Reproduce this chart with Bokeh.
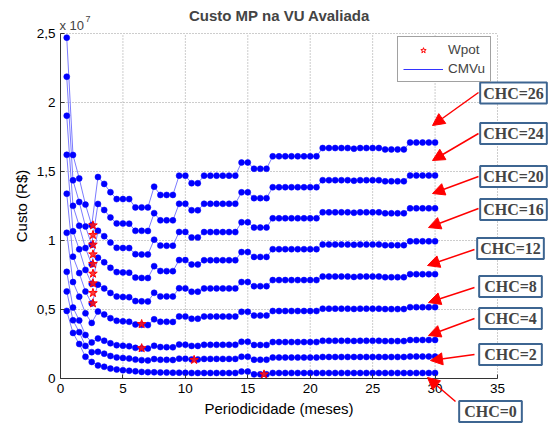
from bokeh.plotting import figure
from bokeh.models import (FixedTicker, Label, Arrow, NormalHead, Legend, LegendItem, Range1d,
                          LinearAxis)
from bokeh.embed import file_html
from bokeh.resources import INLINE

# ---------------- data (cost in units of 1e7 R$) ----------------
months = [0.5, 1.0, 1.5, 2.0, 2.5, 3.0, 3.5, 4.0, 4.5, 5.0, 5.5,
          6.0, 6.5, 7.0, 7.5, 8.0, 8.5, 9.0, 9.5, 10.0, 10.5, 11.0,
          11.5, 12.0, 12.5, 13.0, 13.5, 14.0, 14.5, 15.0, 15.5, 16.0, 16.5,
          17.0, 17.5, 18.0, 18.5, 19.0, 19.5, 20.0, 20.5, 21.0, 21.5, 22.0, 22.5, 23.0,
          23.5, 24.0, 24.5, 25.0, 25.5, 26.0, 26.5, 27.0, 27.5, 28.0, 28.5, 29.0, 29.5, 30.0]

custo_chc0 = [0.490, 0.330, 0.250, 0.157, 0.120, 0.095, 0.085, 0.072, 0.065, 0.060, 0.056,
              0.052, 0.048, 0.046, 0.045, 0.044, 0.043, 0.042, 0.042, 0.041, 0.040, 0.040,
              0.040, 0.040, 0.040, 0.040, 0.040, 0.040, 0.050, 0.050, 0.030, 0.030, 0.030,
              0.040, 0.040, 0.040, 0.040, 0.040, 0.040, 0.040, 0.040, 0.040, 0.040, 0.040, 0.040, 0.040,
              0.040, 0.040, 0.040, 0.040, 0.040, 0.040, 0.040, 0.040, 0.040, 0.040, 0.040, 0.040, 0.040, 0.040]
custo_chc2 = [0.631, 0.422, 0.336, 0.236, 0.191, 0.193, 0.180, 0.163, 0.153, 0.149, 0.145,
              0.137, 0.133, 0.131, 0.141, 0.136, 0.135, 0.134, 0.144, 0.143, 0.138, 0.138,
              0.142, 0.142, 0.142, 0.142, 0.142, 0.142, 0.158, 0.158, 0.136, 0.136, 0.136,
              0.152, 0.152, 0.152, 0.152, 0.152, 0.152, 0.152, 0.152, 0.156, 0.156, 0.156, 0.156, 0.156,
              0.156, 0.156, 0.156, 0.156, 0.156, 0.156, 0.156, 0.156, 0.156, 0.159, 0.159, 0.159, 0.159, 0.159]
custo_chc4 = [0.773, 0.514, 0.421, 0.315, 0.261, 0.290, 0.274, 0.255, 0.241, 0.237, 0.234,
              0.222, 0.218, 0.217, 0.237, 0.228, 0.227, 0.226, 0.246, 0.245, 0.236, 0.236,
              0.244, 0.244, 0.244, 0.244, 0.244, 0.244, 0.266, 0.266, 0.243, 0.243, 0.243,
              0.264, 0.264, 0.264, 0.264, 0.264, 0.264, 0.264, 0.264, 0.273, 0.273, 0.273, 0.273, 0.273,
              0.272, 0.273, 0.273, 0.273, 0.273, 0.271, 0.271, 0.271, 0.271, 0.279, 0.279, 0.279, 0.279, 0.279]
custo_chc8 = [1.056, 0.699, 0.593, 0.472, 0.403, 0.485, 0.464, 0.437, 0.418, 0.414, 0.411,
              0.391, 0.389, 0.387, 0.429, 0.411, 0.411, 0.410, 0.450, 0.449, 0.433, 0.433,
              0.449, 0.449, 0.449, 0.449, 0.449, 0.449, 0.483, 0.483, 0.456, 0.456, 0.456,
              0.489, 0.489, 0.489, 0.489, 0.489, 0.489, 0.489, 0.489, 0.506, 0.506, 0.506, 0.506, 0.506,
              0.504, 0.506, 0.506, 0.506, 0.506, 0.503, 0.503, 0.503, 0.503, 0.517, 0.517, 0.517, 0.517, 0.517]
custo_chc12 = [1.339, 0.883, 0.764, 0.630, 0.544, 0.680, 0.653, 0.620, 0.594, 0.591, 0.589,
               0.561, 0.559, 0.558, 0.621, 0.595, 0.595, 0.594, 0.654, 0.653, 0.629, 0.629,
               0.653, 0.653, 0.653, 0.653, 0.653, 0.653, 0.699, 0.699, 0.669, 0.669, 0.669,
               0.713, 0.713, 0.713, 0.713, 0.713, 0.713, 0.713, 0.713, 0.739, 0.739, 0.739, 0.739, 0.739,
               0.736, 0.739, 0.739, 0.739, 0.739, 0.734, 0.734, 0.734, 0.734, 0.756, 0.756, 0.756, 0.756, 0.756]
custo_chc16 = [1.621, 1.067, 0.936, 0.787, 0.686, 0.875, 0.842, 0.802, 0.771, 0.769, 0.767,
               0.731, 0.729, 0.728, 0.814, 0.779, 0.778, 0.778, 0.858, 0.858, 0.826, 0.826,
               0.857, 0.857, 0.857, 0.857, 0.857, 0.857, 0.916, 0.916, 0.881, 0.881, 0.881,
               0.937, 0.937, 0.937, 0.937, 0.937, 0.937, 0.937, 0.937, 0.971, 0.971, 0.971, 0.971, 0.971,
               0.969, 0.971, 0.971, 0.971, 0.971, 0.966, 0.966, 0.966, 0.966, 0.994, 0.994, 0.994, 0.994, 0.994]
custo_chc20 = [1.904, 1.251, 1.107, 0.945, 0.827, 1.070, 1.031, 0.985, 0.947, 0.946, 0.945,
               0.901, 0.899, 0.899, 1.006, 0.963, 0.962, 0.962, 1.062, 1.062, 1.022, 1.022,
               1.061, 1.061, 1.061, 1.061, 1.061, 1.061, 1.132, 1.132, 1.094, 1.094, 1.094,
               1.161, 1.161, 1.161, 1.161, 1.161, 1.161, 1.161, 1.161, 1.204, 1.204, 1.204, 1.204, 1.204,
               1.201, 1.204, 1.204, 1.204, 1.204, 1.197, 1.197, 1.197, 1.197, 1.233, 1.233, 1.233, 1.233, 1.233]
custo_chc24 = [2.187, 1.436, 1.279, 1.102, 0.969, 1.265, 1.221, 1.167, 1.124, 1.123, 1.122,
               1.070, 1.070, 1.069, 1.198, 1.146, 1.146, 1.146, 1.266, 1.266, 1.219, 1.219,
               1.266, 1.266, 1.266, 1.266, 1.266, 1.266, 1.349, 1.349, 1.307, 1.307, 1.307,
               1.386, 1.386, 1.386, 1.386, 1.386, 1.386, 1.386, 1.386, 1.437, 1.437, 1.437, 1.437, 1.437,
               1.433, 1.437, 1.437, 1.437, 1.437, 1.429, 1.429, 1.429, 1.429, 1.471, 1.471, 1.471, 1.471, 1.471]
custo_chc26 = [2.470, 1.620, 1.450, 1.260, 1.110, 1.460, 1.410, 1.350, 1.300, 1.300, 1.300,
               1.240, 1.240, 1.240, 1.390, 1.330, 1.330, 1.330, 1.470, 1.470, 1.415, 1.415,
               1.470, 1.470, 1.470, 1.470, 1.470, 1.470, 1.565, 1.565, 1.520, 1.520, 1.520,
               1.610, 1.610, 1.610, 1.610, 1.610, 1.610, 1.610, 1.610, 1.670, 1.670, 1.670, 1.670, 1.670,
               1.665, 1.670, 1.670, 1.670, 1.670, 1.660, 1.660, 1.660, 1.660, 1.710, 1.710, 1.710, 1.710, 1.710]

wpot_x = [2.6, 2.6, 2.6, 2.6, 2.6, 2.6, 2.6, 2.6, 2.6, 6.5, 6.5, 10.7, 16.3]
wpot_y = [1.11, 1.04, 0.97, 0.90, 0.83, 0.76, 0.69, 0.62, 0.545, 0.395, 0.22, 0.135, 0.03]

x_ticks = [0, 5, 10, 15, 20, 25, 30, 35]
y_ticks = [0, 0.5, 1.0, 1.5, 2.0, 2.5]
y_tick_text = ["0", "0,5", "1", "1,5", "2", "2,5"]

chc_names = ["CHC=26", "CHC=24", "CHC=20", "CHC=16", "CHC=12", "CHC=8", "CHC=4", "CHC=2", "CHC=0"]

curves = [custo_chc0, custo_chc2, custo_chc4, custo_chc8, custo_chc12,
          custo_chc16, custo_chc20, custo_chc24, custo_chc26]

# ---------------- layout: the frame spans the whole canvas; axes sit at fixed locations ----------------
W, H = 557, 423
LEFT, RIGHT, TOP, BOTTOM = 60, 497, 33, 378          # pixel box of the axes area
X_MAX, Y_MAX = 35.0, 2.5
sx = (RIGHT - LEFT) / X_MAX
sy = (BOTTOM - TOP) / Y_MAX
x_range = Range1d(-LEFT / sx, X_MAX + (W - RIGHT) / sx)
y_range = Range1d(-(H - BOTTOM) / sy, Y_MAX + TOP / sy)

# annotation placement (canvas pixels, y from top)
box_px = [513, 513, 513, 513, 510, 510, 510, 510, 490]
box_py = [92.5, 133, 176, 209, 248, 286, 318, 354, 411]
arr_px0 = [478, 478, 478, 478, 474, 474, 474, 474, 455]
arr_py0 = [92, 133, 176, 208, 249, 287, 318, 354, 401]
arr_px1 = [432, 432, 432, 428, 427, 428, 428, 430, 427]
arr_py1 = [125, 160, 193, 227, 265, 302, 335, 360, 377]

SANS = "Liberation Sans"

p = figure(width=W, height=H, output_backend="svg", toolbar_location=None,
           x_range=x_range, y_range=y_range, x_axis_type=None, y_axis_type=None,
           min_border=0, title=None)
p.outline_line_color = None
p.background_fill_color = "white"
p.border_fill_color = "white"

# dotted grid limited to the axes box
grid_style = dict(line_color="#9a9a9a", line_dash="1 2", line_width=1)
p.segment(x0=x_ticks[1:], y0=[0] * (len(x_ticks) - 1), x1=x_ticks[1:], y1=[Y_MAX] * (len(x_ticks) - 1), **grid_style)
p.segment(x0=[0] * (len(y_ticks) - 1), y0=y_ticks[1:], x1=[X_MAX] * (len(y_ticks) - 1), y1=y_ticks[1:], **grid_style)

xaxis = LinearAxis(fixed_location=0, bounds=(0, X_MAX), ticker=FixedTicker(ticks=x_ticks),
                   axis_label="Periodicidade (meses)")
yaxis = LinearAxis(fixed_location=0, bounds=(0, Y_MAX), ticker=FixedTicker(ticks=y_ticks),
                   axis_label="Custo (R$)",
                   major_label_overrides={t: s for t, s in zip(y_ticks, y_tick_text)})
for ax in (xaxis, yaxis):
    ax.axis_label_text_font = SANS
    ax.axis_label_text_font_size = "15px"
    ax.axis_label_text_font_style = "normal"
    ax.axis_label_text_color = "black"
    ax.major_label_text_font = SANS
    ax.major_label_text_font_size = "13.5px"
    ax.major_label_text_color = "black"
    ax.axis_line_color = "#333333"
    ax.major_tick_line_color = "#333333"
    ax.major_tick_in = 4
    ax.major_tick_out = 0
    ax.minor_tick_line_color = None
    ax.axis_label_standoff = 4
    ax.major_label_standoff = 5
p.add_layout(xaxis, "below")
p.add_layout(yaxis, "left")

for ys in curves:
    p.line(months, ys, line_color="#7b7bff", line_width=1)
for ys in curves:
    p.scatter(months, ys, size=6, fill_color="#0000ff", line_color="#0000ff", line_width=0.5)

p.scatter(wpot_x, wpot_y, marker="star", size=9, fill_color="#ff1a1a", fill_alpha=0.85,
          line_color="#ff0000", line_width=1)

# legend-only renderers (points placed outside the visible range)
leg_star = p.scatter(x=[-100], y=[-100], marker="star", size=7, fill_color=None, line_color="#ff0000", line_width=1)
leg_line = p.line(x=[-100, -99], y=[-100, -100], line_color="#3333ff", line_width=1.2)
legend = Legend(items=[LegendItem(label="Wpot", renderers=[leg_star]),
                       LegendItem(label="CMVu", renderers=[leg_line])],
                location=(397, 341), label_text_font=SANS, label_text_font_size="13.5px",
                glyph_width=40, glyph_height=14, label_standoff=5, spacing=4, padding=5, margin=0,
                border_line_color="#444444", border_line_width=1, background_fill_alpha=1)
p.add_layout(legend)

# title and exponent label
p.add_layout(Label(x=279, y=15, x_units="canvas", y_units="canvas", text="Custo MP na VU Avaliada",
                   text_font=SANS, text_font_size="15px", text_font_style="bold",
                   text_align="center", text_baseline="middle"))
p.add_layout(Label(x=59, y=25, x_units="canvas", y_units="canvas", text="x 10", text_font=SANS,
                   text_font_size="13px", text_baseline="alphabetic", text_align="left"))
p.add_layout(Label(x=85, y=18, x_units="canvas", y_units="canvas", text="7", text_font=SANS,
                   text_font_size="9px", text_baseline="alphabetic", text_align="left"))

for name, bx, by, x0, y0, x1, y1 in zip(chc_names, box_px, box_py, arr_px0, arr_py0, arr_px1, arr_py1):
    p.add_layout(Arrow(x_start=x0, y_start=y0, x_end=x1, y_end=y1,
                       start_units="canvas", end_units="canvas",
                       line_color="#ff0000", line_width=1.5,
                       end=NormalHead(size=12, fill_color="#ff0000", line_color="#ff0000")))
    pad_h = 3 if len(name) == 6 else 5
    p.add_layout(Label(x=bx, y=by, x_units="canvas", y_units="canvas", text=name,
                       text_align="center", text_baseline="middle",
                       text_font="Liberation Serif", text_font_style="bold", text_font_size="16px",
                       background_fill_color="white", border_line_color="#3d6591", border_line_width=2,
                       padding=(pad_h, 2)))

open("out.html", "w").write(file_html(p, INLINE))
